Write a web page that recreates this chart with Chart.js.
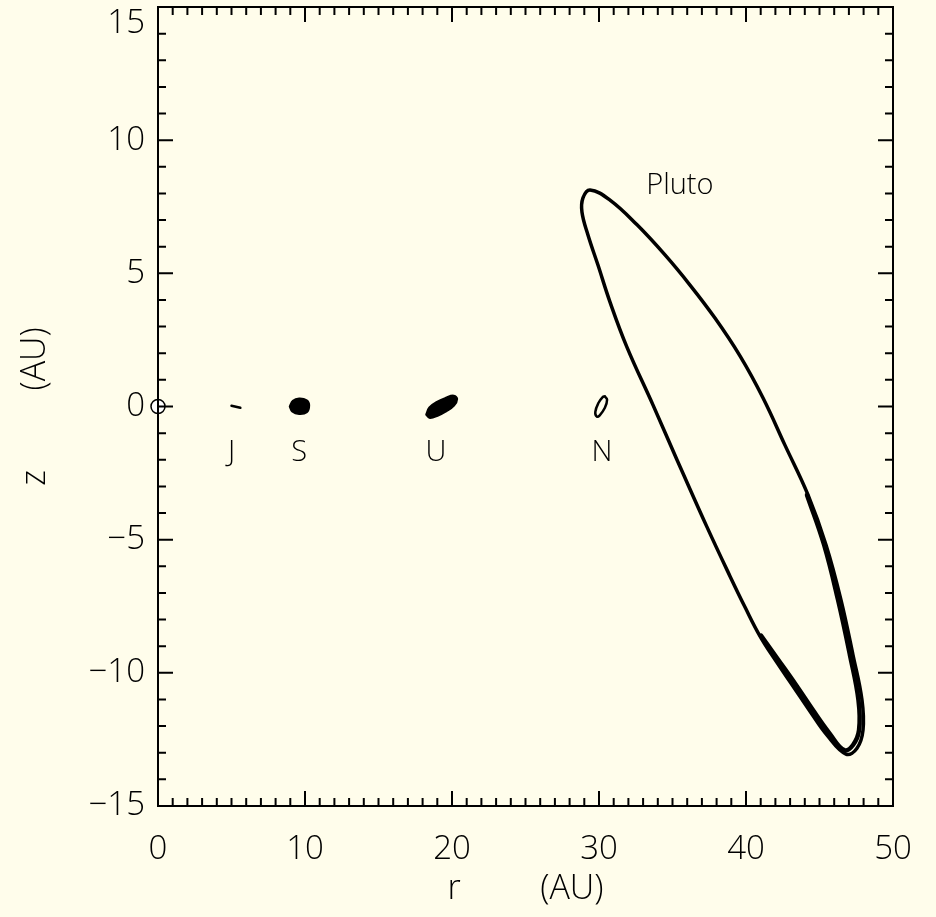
<!DOCTYPE html>
<html>
<head>
<meta charset="utf-8">
<script src="https://cdn.jsdelivr.net/npm/chart.js@4.4.0/dist/chart.umd.min.js"></script>
<style>
  html, body { margin: 0; padding: 0; background: #fffdeb; }
  canvas { display: block; }
</style>
</head>
<body>
<canvas id="orbits" width="936" height="917"></canvas>
<script>
// Values, r and z in AU
const xTicks = [0, 10, 20, 30, 40, 50];
const yTicks = [-15, -10, -5, 0, 5, 10, 15];

const sun = [{ x: 0, y: 0 }];

const jupiter = [[5.0, 0.03], [5.6, -0.05]];
const saturn = [[9.0, 0.0], [9.2, 0.2], [9.6, 0.28], [10.1, 0.22], [10.25, 0.05],
  [10.1, -0.2], [9.6, -0.26], [9.15, -0.17], [9.0, 0.0]];
const uranus = [[18.3, -0.3], [18.5, -0.05], [19.0, 0.15], [19.6, 0.3], [20.1, 0.38],
  [20.3, 0.28], [20.1, 0.05], [19.6, -0.15], [19.0, -0.32], [18.5, -0.4], [18.3, -0.3]];
const neptune = [[30.4, 0.38], [30.55, 0.25], [30.4, -0.05], [30.05, -0.33], [29.85, -0.38],
  [29.75, -0.2], [29.95, 0.12], [30.25, 0.35], [30.4, 0.38]];

// Pluto's orbit, going round from the middle of the left side
const pluto = [[35.31, -2.01], [33.67, 0.06], [31.9, 2.23], [30.75, 3.92], [29.93, 5.31],
  [29.25, 6.44], [28.84, 7.3], [28.91, 7.83], [29.39, 8.13], [30.75, 7.75],
  [32.59, 6.82], [34.49, 5.69], [36.19, 4.56], [37.89, 3.32], [39.59, 1.90],
  [41.16, 0.32], [42.65, -1.45], [44.22, -3.32], [45.44, -5.19], [46.46, -7.26],
  [47.28, -9.33], [47.89, -11.02], [47.96, -12.15], [47.55, -12.83], [46.8, -13.05],
  [45.51, -12.34], [44.35, -11.44], [43.2, -10.5], [42.04, -9.56], [40.95, -8.62],
  [39.93, -7.53], [38.91, -6.37], [37.35, -4.53], [35.31, -2.01]];
// inner edge of the thick band in the lower right
const plutoBand = [[44.15, -3.32], [45.31, -5.19], [46.26, -7.26], [47.07, -9.33],
  [47.65, -11.02], [47.69, -12.15], [47.28, -12.71], [46.67, -12.9], [45.68, -12.27],
  [44.52, -11.37], [43.37, -10.43], [42.18, -9.5], [41.02, -8.6]];

const labels = [
  { text: "J", x: 5.0, y: -1.72 },
  { text: "S", x: 9.6, y: -1.72 },
  { text: "U", x: 18.9, y: -1.72 },
  { text: "N", x: 30.2, y: -1.72 },
  { text: "Pluto", x: 35.5, y: 8.3 }
];

const FONT = "'Open Sans', 'Liberation Sans', sans-serif";
const pts = a => a.map(p => ({ x: p[0], y: p[1] }));
const minus = v => String(v).replace("-", "\u2212");

function orbit(data, width, fill, tension) {
  return {
    data: pts(data), showLine: true, pointRadius: 0, borderColor: "#000",
    backgroundColor: "#000", borderWidth: width, fill: fill ? "shape" : false,
    tension: tension, borderCapStyle: "round", borderJoinStyle: "round"
  };
}

// inward tick marks, the frame round the plot and the planet names
const frame = {
  id: "frame",
  afterDatasetsDraw(chart) {
    const { ctx, chartArea: a, scales: { x, y } } = chart;
    ctx.save();
    ctx.strokeStyle = "#000";
    ctx.lineWidth = 2;
    ctx.strokeRect(a.left, a.top, a.right - a.left, a.bottom - a.top);
    ctx.beginPath();
    for (let v = x.min; v <= x.max; v++) {
      const px = x.getPixelForValue(v);
      const len = v % 10 === 0 ? 15 : 8;
      ctx.moveTo(px, a.bottom); ctx.lineTo(px, a.bottom - len);
      ctx.moveTo(px, a.top); ctx.lineTo(px, a.top + len);
    }
    for (let v = y.min; v <= y.max; v++) {
      const py = y.getPixelForValue(v);
      const len = v % 5 === 0 ? 15 : 8;
      ctx.moveTo(a.left, py); ctx.lineTo(a.left + len, py);
      ctx.moveTo(a.right, py); ctx.lineTo(a.right - len, py);
    }
    ctx.stroke();
    ctx.fillStyle = "#000";
    ctx.font = "300 29px " + FONT;
    ctx.textAlign = "center";
    ctx.textBaseline = "middle";
    labels.forEach(l => ctx.fillText(l.text, x.getPixelForValue(l.x), y.getPixelForValue(l.y)));
    ctx.restore();
  }
};

new Chart(document.getElementById("orbits"), {
  type: "scatter",
  data: {
    datasets: [
      orbit(jupiter, 2.5, false, 0),
      orbit(saturn, 3, true, 0.4),
      orbit(uranus, 3.5, true, 0.4),
      orbit(neptune, 2.5, false, 0.4),
      orbit(pluto, 3.5, false, 0.4),
      orbit(plutoBand, 4.5, false, 0.4),
      { data: sun, pointRadius: 7, pointBorderWidth: 1.5, pointBorderColor: "#000",
        pointBackgroundColor: "#ffffff", clip: false },
      { data: sun, pointRadius: 1.8, pointBorderWidth: 0, pointBackgroundColor: "#000", clip: false }
    ]
  },
  options: {
    responsive: false,
    animation: false,
    devicePixelRatio: 1,
    layout: { autoPadding: false, padding: { top: 7, right: 43, left: 0, bottom: 0 } },
    plugins: { legend: { display: false }, tooltip: { enabled: false } },
    scales: {
      x: {
        type: "linear", min: 0, max: 50,
        afterFit: s => { s.height = 111; s.paddingLeft = 0; s.paddingRight = 0; },
        afterBuildTicks: s => { s.ticks = xTicks.map(v => ({ value: v })); },
        grid: { display: false, drawTicks: false },
        border: { display: false },
        ticks: { color: "#000", padding: 24, maxRotation: 0,
          font: { family: FONT, size: 33, weight: 300 }, callback: v => minus(v) },
        title: { display: true, text: "r         (AU)", color: "#000",
          font: { family: FONT, size: 34, weight: 300 }, padding: { top: 4, bottom: 7 } }
      },
      y: {
        type: "linear", min: -15, max: 15,
        afterFit: s => { s.width = 158; s.paddingTop = 0; s.paddingBottom = 0; },
        afterBuildTicks: s => { s.ticks = yTicks.map(v => ({ value: v })); },
        grid: { display: false, drawTicks: false },
        border: { display: false },
        ticks: { color: "#000", padding: 13,
          font: { family: FONT, size: 33, weight: 300, lineHeight: 1.0 },
          callback: v => (v === 15 ? ["", "15"] : minus(v)) },
        title: { display: true, text: "z         (AU)", color: "#000",
          font: { family: FONT, size: 34, weight: 300 }, padding: { top: 15, bottom: 0 } }
      }
    }
  },
  plugins: [frame]
});
</script>
</body>
</html>
